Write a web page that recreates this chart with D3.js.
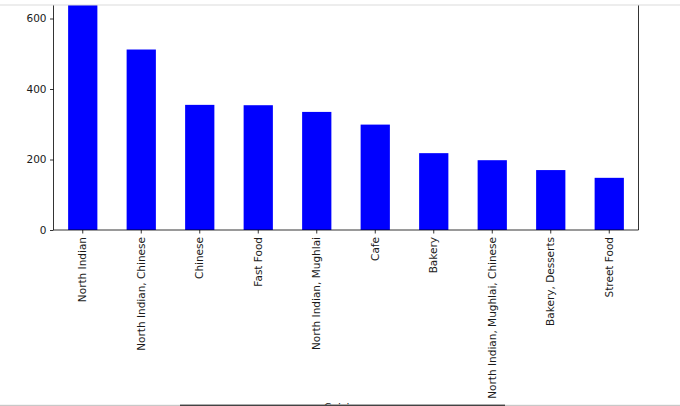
<!DOCTYPE html>
<html>
<head>
<meta charset="utf-8">
<script src="https://cdn.jsdelivr.net/npm/d3@7"></script>
<style>
  html, body { margin: 0; padding: 0; background: #fff; overflow: hidden; }
  text { font-family: "DejaVu Sans", sans-serif; }
</style>
</head>
<body>
<div id="plot"></div>
<script>
// top 10 cuisines by count (first bar runs past the top of the view)
var cuisines = ["North Indian", "North Indian, Chinese", "Chinese", "Fast Food",
  "North Indian, Mughlai", "Cafe", "Bakery", "North Indian, Mughlai, Chinese",
  "Bakery, Desserts", "Street Food"];
var counts = [660, 512, 355, 354, 335, 299, 218, 198, 170, 148];
var yTicks = [0, 200, 400, 600];

var W = 680, H = 406;
var left = 53.5, right = 638.5, bottom = 230;
var fontSize = 10.5;

var svg = d3.select('#plot')
  .append('svg')
    .attr('width', W)
    .attr('height', H);

var x = d3.scaleBand()
  .domain(cuisines)
  .range([left, right])
  .paddingInner(0.5)
  .paddingOuter(0.25);

var y = d3.scaleLinear()
  .domain([0, 600])
  .range([bottom, 18.5]);

// bars
svg.append('g')
  .selectAll('rect')
  .data(cuisines)
  .join('rect')
    .attr('x', d => x(d))
    .attr('y', (d, i) => y(counts[i]))
    .attr('width', x.bandwidth())
    .attr('height', (d, i) => bottom - y(counts[i]))
    .attr('fill', '#0000ff');

// y axis
var yAxis = svg.append('g')
  .attr('transform', 'translate(' + left + ',0)')
  .call(d3.axisLeft(y).tickValues(yTicks).tickSize(3.5).tickPadding(3.5));
yAxis.select('.domain').remove();
yAxis.selectAll('line').attr('stroke', '#000').attr('stroke-width', 0.8);
yAxis.selectAll('text').attr('font-size', fontSize).attr('fill', '#1a1a1a')
  .style('font-family', '"DejaVu Sans", sans-serif');

// x axis with rotated labels
var xAxis = svg.append('g')
  .attr('transform', 'translate(0,' + bottom + ')')
  .call(d3.axisBottom(x).tickSize(3.5).tickPadding(3.5));
xAxis.select('.domain').remove();
xAxis.selectAll('line').attr('stroke', '#000').attr('stroke-width', 0.8);
xAxis.selectAll('text')
  .attr('font-size', fontSize).attr('fill', '#1a1a1a')
  .style('font-family', '"DejaVu Sans", sans-serif')
  .attr('transform', 'rotate(-90)')
  .attr('text-anchor', 'end')
  .attr('x', -7)
  .attr('y', 0)
  .attr('dy', '0.35em');

// spines: left, right, bottom (top one is out of view)
var spines = svg.append('g')
  .attr('stroke', '#000')
  .attr('stroke-width', 0.8);
spines.append('line').attr('x1', left).attr('x2', left).attr('y1', 0).attr('y2', bottom);
spines.append('line').attr('x1', right).attr('x2', right).attr('y1', 0).attr('y2', bottom);
spines.append('line').attr('x1', left).attr('x2', right).attr('y1', bottom).attr('y2', bottom);

// x label, mostly cut off at the bottom as in the reference
svg.append('text')
  .attr('x', (left + right) / 2)
  .attr('y', 411)
  .attr('text-anchor', 'middle')
  .attr('font-size', fontSize)
  .attr('fill', '#1a1a1a')
  .text('Cuisines');

// cropped frame: blank strip and rule on top
svg.append('rect').attr('x', 0).attr('y', 0).attr('width', W).attr('height', 5).attr('fill', '#fff');
svg.append('rect').attr('x', 0).attr('y', 4.5).attr('width', W).attr('height', 1).attr('fill', '#dcdcdc');

// scrollbar line at the bottom
svg.append('rect').attr('x', 0).attr('y', 404.8).attr('width', W).attr('height', 1.2).attr('fill', '#c8c8c8');
svg.append('rect').attr('x', 180).attr('y', 404.6).attr('width', 325).attr('height', 1.4).attr('fill', '#444');
</script>
</body>
</html>
